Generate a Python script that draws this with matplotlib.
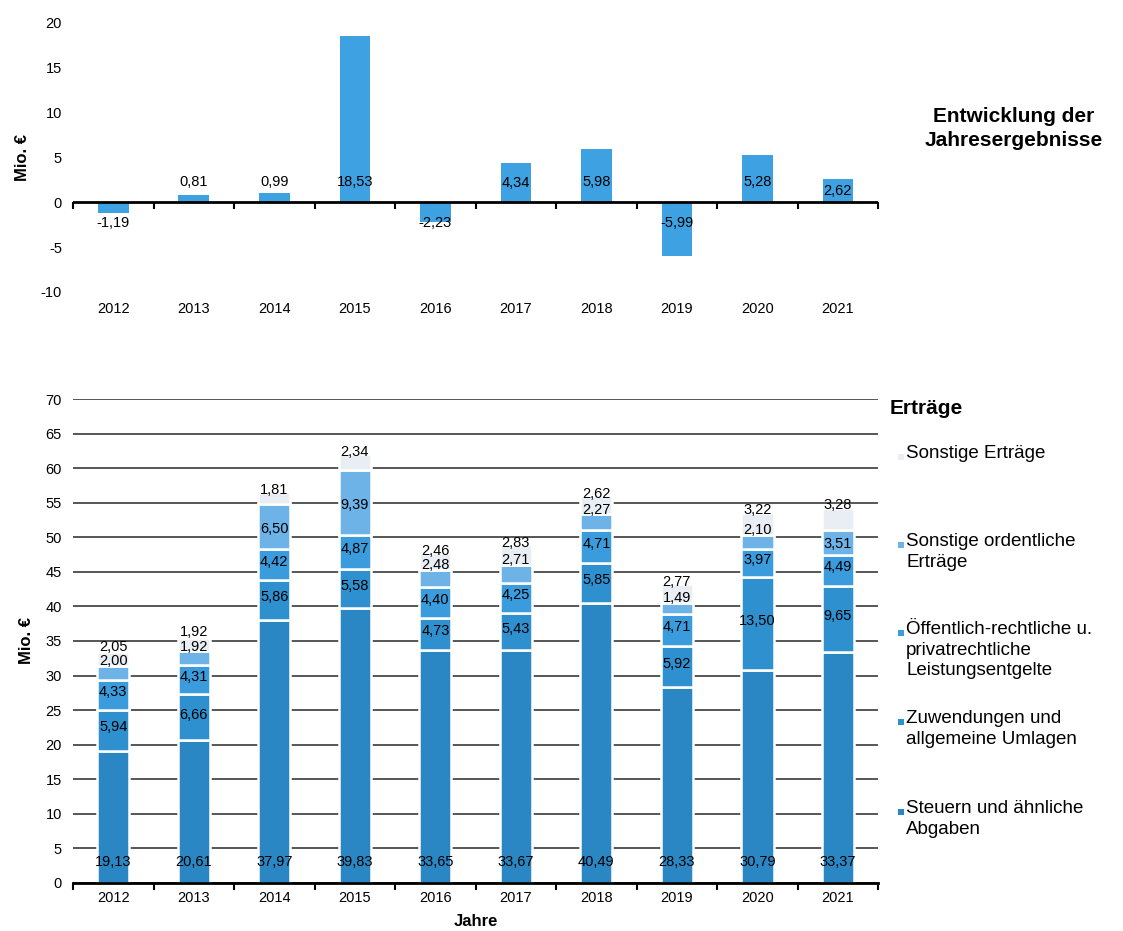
import numpy as np
import matplotlib
matplotlib.use("Agg")
import matplotlib.pyplot as plt
from matplotlib.patches import Rectangle

plt.rcParams['font.family'] = ['Liberation Sans', 'DejaVu Sans']
plt.rcParams['axes.unicode_minus'] = False

years = ["2012", "2013", "2014", "2015", "2016", "2017", "2018", "2019", "2020", "2021"]

# Jahresergebnisse (Mio. EUR)
ergebnis = [-1.19, 0.81, 0.99, 18.53, -2.23, 4.34, 5.98, -5.99, 5.28, 2.62]

# Erträge, from bottom to top of stack
steuern = [19.13, 20.61, 37.97, 39.83, 33.65, 33.67, 40.49, 28.33, 30.79, 33.37]
zuwendungen = [5.94, 6.66, 5.86, 5.58, 4.73, 5.43, 5.85, 5.92, 13.50, 9.65]
leistungsentgelte = [4.33, 4.31, 4.42, 4.87, 4.40, 4.25, 4.71, 4.71, 3.97, 4.49]
sonst_ordentlich = [2.00, 1.92, 6.50, 9.39, 2.48, 2.71, 2.27, 1.49, 2.10, 3.51]
sonst_ertraege = [2.05, 1.92, 1.81, 2.34, 2.46, 2.83, 2.62, 2.77, 3.22, 3.28]

series = [steuern, zuwendungen, leistungsentgelte, sonst_ordentlich, sonst_ertraege]
series_names = ["Steuern und ähnliche\nAbgaben",
                "Zuwendungen und\nallgemeine Umlagen",
                "Öffentlich-rechtliche u.\nprivatrechtliche\nLeistungsentgelte",
                "Sonstige ordentliche\nErträge",
                "Sonstige Erträge"]
colors = ["#2b87c4", "#2f90d0", "#3b9cdd", "#6db3e8", "#e9eef5"]


def fmt(v):
    return f"{v:.2f}".replace(".", ",")


fig = plt.figure(figsize=(11.23, 9.31), dpi=100)
x = np.arange(len(years))

# ---------------- top chart ----------------
ax1 = fig.add_axes([0.065, 0.6864, 0.717, 0.2889])
ax1.bar(x, ergebnis, width=0.38, color="#3ea2e2", zorder=2)
ax1.axhline(0, color="black", lw=2, zorder=3)
ax1.set_xlim(-0.5, 9.5)
ax1.set_ylim(-10, 20)
ax1.set_yticks(np.arange(-10, 21, 5))
for s in ax1.spines.values():
    s.set_visible(False)
ax1.spines['bottom'].set_position(('data', 0))
ax1.set_xticks(x)
ax1.set_xticklabels(years)
ax1.set_xticks(np.arange(-0.5, 10, 1), minor=True)
ax1.tick_params(axis='x', which='major', length=0, pad=72, labelsize=10.5)
ax1.tick_params(axis='x', which='minor', length=5, width=1.5, direction='out', color='black')
ax1.tick_params(axis='y', length=0, labelsize=10.5, pad=8)
ax1.set_ylabel("Mio. €", fontsize=12, fontweight='bold', labelpad=8)

for xi, v in zip(x, ergebnis):
    if v >= 0:
        yl = min(v / 2, 2.3) if v > 2 else 2.3
    else:
        yl = -2.3
    ax1.text(xi, yl, fmt(v), ha='center', va='center', fontsize=10.5, zorder=4)

fig.text(0.903, 0.862, "Entwicklung der\nJahresergebnisse", ha='center', va='center',
         fontsize=15, fontweight='bold', linespacing=1.3)

# ---------------- bottom chart ----------------
ax2 = fig.add_axes([0.065, 0.0516, 0.717, 0.5198])
bottom = np.zeros(len(years))
for vals, col in zip(series, colors):
    ax2.bar(x, vals, bottom=bottom, width=0.4, color=col, edgecolor='white', linewidth=1.8, zorder=2)
    bottom = bottom + np.array(vals)

ax2.set_xlim(-0.5, 9.5)
ax2.set_ylim(0, 70)
ax2.set_yticks(np.arange(0, 71, 5))
ax2.yaxis.grid(True, color="#3a3a3a", lw=1.2)
ax2.set_axisbelow(True)
for side in ['left', 'right', 'top']:
    ax2.spines[side].set_visible(False)
ax2.spines['bottom'].set_linewidth(2)
ax2.set_xticks(x)
ax2.set_xticklabels(years)
ax2.set_xticks(np.arange(-0.5, 10, 1), minor=True)
ax2.tick_params(axis='x', which='major', length=0, pad=6, labelsize=10.5)
ax2.tick_params(axis='x', which='minor', length=5, width=1.5, direction='out')
ax2.tick_params(axis='y', length=0, labelsize=10.5, pad=8)
ax2.set_ylabel("Mio. €", fontsize=12, fontweight='bold', labelpad=8)
ax2.set_xlabel("Jahre", fontsize=12, fontweight='bold', labelpad=6)

# value labels
for i in range(len(years)):
    base = 0.0
    tops = []
    for vals in series:
        tops.append(base + vals[i])
        base += vals[i]
    # Steuern: near the bottom
    ax2.text(x[i], 3, fmt(steuern[i]), ha='center', va='center', fontsize=10.5, zorder=4)
    # middle segments: centred
    for k in (1, 2):
        lo = tops[k - 1]
        ax2.text(x[i], lo + series[k][i] / 2 + 0.4, fmt(series[k][i]), ha='center', va='center',
                 fontsize=10.5, zorder=4)
    # Sonstige ordentliche
    v = sonst_ordentlich[i]
    if v > 3:
        y_ord = tops[2] + v / 2 - 0.3
    else:
        y_ord = tops[3] + 0.7
    ax2.text(x[i], y_ord, fmt(v), ha='center', va='center', fontsize=10.5, zorder=4)
    # Sonstige Erträge
    y_so = max(tops[4] + 0.3, y_ord + 2.1)
    ax2.text(x[i], y_so, fmt(sonst_ertraege[i]), ha='center', va='center', fontsize=10.5, zorder=4)

# legend on the right
fig.text(0.792, 0.561, "Erträge", ha='left', va='center', fontsize=15, fontweight='bold')
leg_y = [457, 545, 633, 722, 812]
leg_order = [4, 3, 2, 1, 0]
for py, k in zip(leg_y, leg_order):
    yf = 1 - py / 931
    fig.patches.append(Rectangle((0.7995, yf - 0.0035), 0.0055, 0.0068, transform=fig.transFigure,
                                 facecolor=colors[k], edgecolor='none'))
    fig.text(0.807, yf + 0.0125, series_names[k], ha='left', va='top', fontsize=13.5, linespacing=1.25)

fig.savefig("out.png", dpi=100)
